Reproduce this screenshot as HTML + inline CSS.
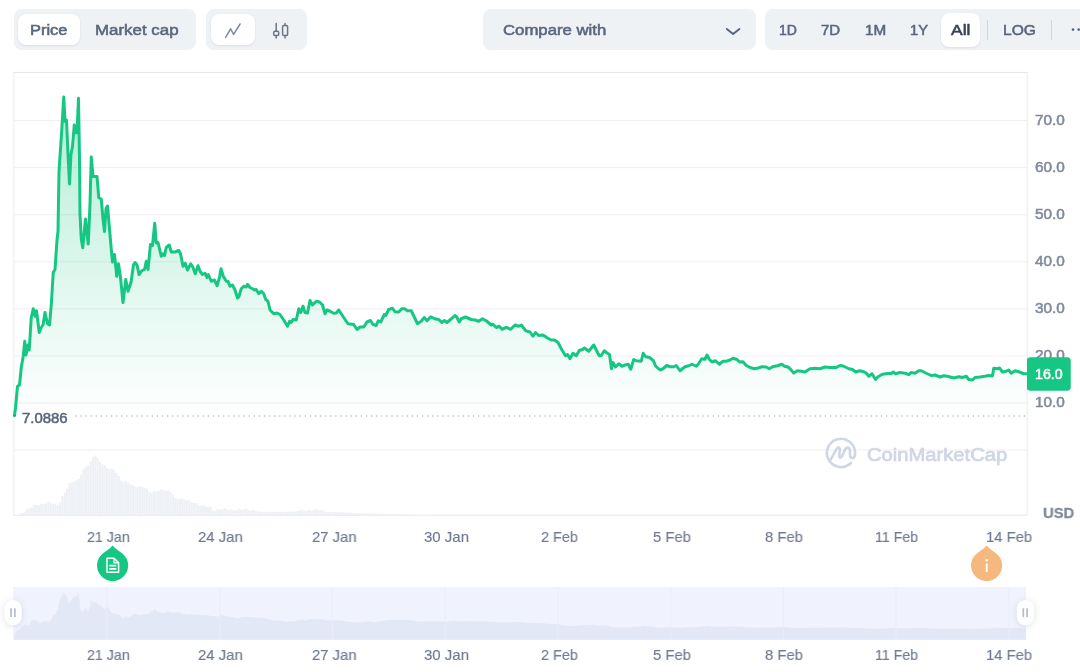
<!DOCTYPE html><html><head><meta charset="utf-8"><title>chart</title><style>
html,body{margin:0;padding:0;background:#fff;}
body{width:1080px;height:672px;position:relative;overflow:hidden;font-family:"Liberation Sans",sans-serif;}
.t{position:absolute;white-space:nowrap;line-height:1;will-change:transform;}
.grp{position:absolute;top:9px;height:41px;background:#eff2f5;border-radius:8px;}
.pill{position:absolute;background:#fff;border-radius:8px;box-shadow:0 1px 2px rgba(88,102,126,.12),0 0 1px rgba(88,102,126,.1);}
.xl{font-size:15px;color:#6b768c;transform:translateX(-50%);}
</style></head><body>
<svg width="1080" height="672" viewBox="0 0 1080 672" style="position:absolute;left:0;top:0">
<defs>
<linearGradient id="ag" x1="0" y1="0" x2="0" y2="1" gradientUnits="objectBoundingBox">
<stop offset="0" stop-color="#16c784" stop-opacity="0.32"/>
<stop offset="1" stop-color="#16c784" stop-opacity="0.0"/>
</linearGradient>
<pattern id="vp" x="14" y="0" width="2.35" height="10" patternUnits="userSpaceOnUse"><rect x="0" y="0" width="2.35" height="10" fill="#f7f8fa"/><rect x="0.3" y="0" width="1.75" height="10" fill="#edf0f4"/></pattern>
<filter id="sh" x="-50%" y="-50%" width="200%" height="200%"><feDropShadow dx="0" dy="1" stdDeviation="3" flood-color="#58667e" flood-opacity="0.2"/></filter>
</defs>
<rect x="14" y="120.1" width="1013" height="1" fill="#eeeff1"/>
<rect x="14" y="167.17" width="1013" height="1" fill="#eeeff1"/>
<rect x="14" y="214.24" width="1013" height="1" fill="#eeeff1"/>
<rect x="14" y="261.31" width="1013" height="1" fill="#eeeff1"/>
<rect x="14" y="308.38" width="1013" height="1" fill="#eeeff1"/>
<rect x="14" y="355.45" width="1013" height="1" fill="#eeeff1"/>
<rect x="14" y="402.52" width="1013" height="1" fill="#eeeff1"/>
<rect x="14" y="449.59" width="1013" height="1" fill="#eeeff1"/>
<rect x="13.4" y="71.9" width="1014.3" height="1" fill="#e6e6e6"/>
<rect x="13.4" y="514.9" width="1014.3" height="1" fill="#ebecee"/>
<rect x="13.4" y="72.4" width="1" height="443" fill="#ebecee"/>
<rect x="1026.7" y="72.4" width="1" height="443" fill="#ebecee"/>
<g id="wm" fill="none" stroke="#cfd6e4" stroke-width="2.6" stroke-linecap="round" stroke-linejoin="round">
<path d="M850.9 463 A14.1 14.1 0 1 1 855.1 453 C855.1 456 854 458 852.2 458 C850.6 458 850 456.5 850 455 L850 451.5 C850 449 849 447.6 847.6 447.6 C846.3 447.6 845.4 448.6 844.7 450.2 L842.3 455.5 C841.7 457 841 457.7 840.3 457.7 C839.5 457.7 839.2 457 839.3 456 L839.8 450.5 C840 448.5 839.5 447.3 838.6 447.3 C837.7 447.3 837 448.2 836.3 449.6 L830.3 460.1"/>
</g>
<path d="M14.40 515.87h2.05V515.4h-2.05ZM16.75 514.86h2.05V515.4h-2.05ZM19.10 513.85h2.05V515.4h-2.05ZM21.45 512.84h2.05V515.4h-2.05ZM23.80 511.83h2.05V515.4h-2.05ZM26.15 509.39h2.05V515.4h-2.05ZM28.50 508.28h2.05V515.4h-2.05ZM30.85 507.38h2.05V515.4h-2.05ZM33.20 504.92h2.05V515.4h-2.05ZM35.55 505.09h2.05V515.4h-2.05ZM37.90 505.42h2.05V515.4h-2.05ZM40.25 503.72h2.05V515.4h-2.05ZM42.60 503.67h2.05V515.4h-2.05ZM44.95 503.43h2.05V515.4h-2.05ZM47.30 501.60h2.05V515.4h-2.05ZM49.65 502.69h2.05V515.4h-2.05ZM52.00 503.89h2.05V515.4h-2.05ZM54.35 503.43h2.05V515.4h-2.05ZM56.70 504.74h2.05V515.4h-2.05ZM59.05 502.24h2.05V515.4h-2.05ZM61.40 496.37h2.05V515.4h-2.05ZM63.75 492.50h2.05V515.4h-2.05ZM66.10 488.63h2.05V515.4h-2.05ZM68.45 483.33h2.05V515.4h-2.05ZM70.80 482.39h2.05V515.4h-2.05ZM73.15 482.09h2.05V515.4h-2.05ZM75.50 480.03h2.05V515.4h-2.05ZM77.85 479.03h2.05V515.4h-2.05ZM80.20 474.85h2.05V515.4h-2.05ZM82.55 469.03h2.05V515.4h-2.05ZM84.90 467.17h2.05V515.4h-2.05ZM87.25 465.21h2.05V515.4h-2.05ZM89.60 461.24h2.05V515.4h-2.05ZM91.95 456.94h2.05V515.4h-2.05ZM94.30 455.59h2.05V515.4h-2.05ZM96.65 457.91h2.05V515.4h-2.05ZM99.00 461.96h2.05V515.4h-2.05ZM101.35 464.33h2.05V515.4h-2.05ZM103.70 465.15h2.05V515.4h-2.05ZM106.05 468.01h2.05V515.4h-2.05ZM108.40 469.06h2.05V515.4h-2.05ZM110.75 468.72h2.05V515.4h-2.05ZM113.10 470.36h2.05V515.4h-2.05ZM115.45 473.36h2.05V515.4h-2.05ZM117.80 476.10h2.05V515.4h-2.05ZM120.15 480.69h2.05V515.4h-2.05ZM122.50 482.07h2.05V515.4h-2.05ZM124.85 481.14h2.05V515.4h-2.05ZM127.20 482.52h2.05V515.4h-2.05ZM129.55 484.62h2.05V515.4h-2.05ZM131.90 485.35h2.05V515.4h-2.05ZM134.25 486.83h2.05V515.4h-2.05ZM136.60 487.13h2.05V515.4h-2.05ZM138.95 485.79h2.05V515.4h-2.05ZM141.30 486.49h2.05V515.4h-2.05ZM143.65 487.72h2.05V515.4h-2.05ZM146.00 488.64h2.05V515.4h-2.05ZM148.35 491.85h2.05V515.4h-2.05ZM150.70 492.71h2.05V515.4h-2.05ZM153.05 491.20h2.05V515.4h-2.05ZM155.40 491.48h2.05V515.4h-2.05ZM157.75 490.84h2.05V515.4h-2.05ZM160.10 489.17h2.05V515.4h-2.05ZM162.45 490.24h2.05V515.4h-2.05ZM164.80 490.86h2.05V515.4h-2.05ZM167.15 490.37h2.05V515.4h-2.05ZM169.50 492.03h2.05V515.4h-2.05ZM171.85 494.72h2.05V515.4h-2.05ZM174.20 498.05h2.05V515.4h-2.05ZM176.55 499.06h2.05V515.4h-2.05ZM178.90 499.19h2.05V515.4h-2.05ZM181.25 498.17h2.05V515.4h-2.05ZM183.60 499.51h2.05V515.4h-2.05ZM185.95 500.29h2.05V515.4h-2.05ZM188.30 500.16h2.05V515.4h-2.05ZM190.65 502.00h2.05V515.4h-2.05ZM193.00 502.95h2.05V515.4h-2.05ZM195.35 503.09h2.05V515.4h-2.05ZM197.70 505.22h2.05V515.4h-2.05ZM200.05 506.01h2.05V515.4h-2.05ZM202.40 505.06h2.05V515.4h-2.05ZM204.75 506.48h2.05V515.4h-2.05ZM207.10 507.10h2.05V515.4h-2.05ZM209.45 506.87h2.05V515.4h-2.05ZM211.80 510.77h2.05V515.4h-2.05ZM214.15 511.11h2.05V515.4h-2.05ZM216.50 509.36h2.05V515.4h-2.05ZM218.85 509.78h2.05V515.4h-2.05ZM221.20 509.46h2.05V515.4h-2.05ZM223.55 508.31h2.05V515.4h-2.05ZM225.90 509.44h2.05V515.4h-2.05ZM228.25 509.95h2.05V515.4h-2.05ZM230.60 509.15h2.05V515.4h-2.05ZM232.95 510.19h2.05V515.4h-2.05ZM235.30 510.00h2.05V515.4h-2.05ZM237.65 508.80h2.05V515.4h-2.05ZM240.00 509.73h2.05V515.4h-2.05ZM242.35 509.53h2.05V515.4h-2.05ZM244.70 508.50h2.05V515.4h-2.05ZM247.05 509.99h2.05V515.4h-2.05ZM249.40 510.56h2.05V515.4h-2.05ZM251.75 509.86h2.05V515.4h-2.05ZM254.10 511.06h2.05V515.4h-2.05ZM256.45 511.13h2.05V515.4h-2.05ZM258.80 511.64h2.05V515.4h-2.05ZM261.15 511.70h2.05V515.4h-2.05ZM263.50 511.70h2.05V515.4h-2.05ZM265.85 511.70h2.05V515.4h-2.05ZM268.20 511.70h2.05V515.4h-2.05ZM270.55 511.70h2.05V515.4h-2.05ZM272.90 511.70h2.05V515.4h-2.05ZM275.25 511.70h2.05V515.4h-2.05ZM277.60 511.70h2.05V515.4h-2.05ZM279.95 511.70h2.05V515.4h-2.05ZM282.30 511.70h2.05V515.4h-2.05ZM284.65 511.70h2.05V515.4h-2.05ZM287.00 511.70h2.05V515.4h-2.05ZM289.35 511.70h2.05V515.4h-2.05ZM291.70 511.70h2.05V515.4h-2.05ZM294.05 511.42h2.05V515.4h-2.05ZM296.40 510.98h2.05V515.4h-2.05ZM298.75 510.43h2.05V515.4h-2.05ZM301.10 509.38h2.05V515.4h-2.05ZM303.45 510.67h2.05V515.4h-2.05ZM305.80 510.71h2.05V515.4h-2.05ZM308.15 509.77h2.05V515.4h-2.05ZM310.50 510.63h2.05V515.4h-2.05ZM312.85 510.04h2.05V515.4h-2.05ZM315.20 508.85h2.05V515.4h-2.05ZM317.55 510.00h2.05V515.4h-2.05ZM319.90 510.15h2.05V515.4h-2.05ZM322.25 510.02h2.05V515.4h-2.05ZM324.60 511.85h2.05V515.4h-2.05ZM326.95 512.02h2.05V515.4h-2.05ZM329.30 511.71h2.05V515.4h-2.05ZM331.65 511.84h2.05V515.4h-2.05ZM334.00 511.96h2.05V515.4h-2.05ZM336.35 512.09h2.05V515.4h-2.05ZM338.70 512.21h2.05V515.4h-2.05ZM341.05 512.34h2.05V515.4h-2.05ZM343.40 512.46h2.05V515.4h-2.05ZM345.75 512.59h2.05V515.4h-2.05ZM348.10 512.71h2.05V515.4h-2.05ZM350.45 512.84h2.05V515.4h-2.05ZM352.80 512.96h2.05V515.4h-2.05ZM355.15 513.09h2.05V515.4h-2.05ZM357.50 513.21h2.05V515.4h-2.05ZM359.85 513.31h2.05V515.4h-2.05ZM362.20 513.36h2.05V515.4h-2.05ZM364.55 513.41h2.05V515.4h-2.05ZM366.90 513.46h2.05V515.4h-2.05ZM369.25 513.50h2.05V515.4h-2.05ZM371.60 513.55h2.05V515.4h-2.05ZM373.95 513.60h2.05V515.4h-2.05ZM376.30 513.64h2.05V515.4h-2.05ZM378.65 513.69h2.05V515.4h-2.05ZM381.00 513.74h2.05V515.4h-2.05ZM383.35 513.78h2.05V515.4h-2.05ZM385.70 513.83h2.05V515.4h-2.05ZM388.05 513.88h2.05V515.4h-2.05ZM390.40 513.93h2.05V515.4h-2.05ZM392.75 513.97h2.05V515.4h-2.05ZM395.10 514.02h2.05V515.4h-2.05ZM397.45 514.07h2.05V515.4h-2.05ZM399.80 514.11h2.05V515.4h-2.05ZM402.15 514.16h2.05V515.4h-2.05ZM404.50 514.21h2.05V515.4h-2.05ZM406.85 514.25h2.05V515.4h-2.05ZM409.20 514.30h2.05V515.4h-2.05ZM411.55 514.35h2.05V515.4h-2.05ZM413.90 514.40h2.05V515.4h-2.05ZM416.25 514.44h2.05V515.4h-2.05ZM418.60 514.49h2.05V515.4h-2.05ZM420.95 514.51h2.05V515.4h-2.05ZM423.30 514.53h2.05V515.4h-2.05ZM425.65 514.54h2.05V515.4h-2.05ZM428.00 514.56h2.05V515.4h-2.05ZM430 514.6H1026V515.4H430Z" fill="#edf0f4"/>
<path d="M14.50 415.50 L15.50 408.00 L17.50 386.25 L19.50 385.00 L21.25 367.50 L23.25 356.25 L24.75 341.25 L26.00 355.00 L28.00 345.00 L29.25 350.00 L31.25 317.50 L33.25 308.75 L35.00 316.25 L36.50 310.75 L39.25 332.50 L41.25 327.50 L43.00 325.00 L45.00 312.50 L47.50 323.75 L49.50 325.00 L51.25 305.00 L53.25 272.50 L55.00 269.50 L57.00 240.00 L58.00 231.50 L59.00 171.50 L61.50 134.00 L63.75 97.00 L65.00 121.50 L66.50 120.00 L68.00 154.00 L69.50 184.00 L71.00 154.00 L72.50 146.50 L74.25 125.00 L75.75 132.75 L77.00 132.75 L78.50 98.25 L79.50 159.00 L80.00 214.00 L81.25 239.00 L82.75 247.75 L85.50 219.00 L87.00 234.00 L88.25 244.00 L90.00 204.00 L91.25 157.00 L93.00 176.50 L97.00 176.50 L98.75 197.75 L101.25 199.00 L103.00 219.00 L104.50 231.50 L106.00 209.00 L107.50 206.00 L109.50 229.00 L111.50 252.00 L112.50 262.00 L114.50 254.50 L116.75 276.25 L118.50 263.75 L120.50 277.50 L123.00 302.50 L125.75 279.50 L128.00 291.25 L131.00 282.50 L133.50 265.00 L135.00 262.50 L137.00 265.00 L139.00 274.50 L141.75 270.75 L144.50 269.50 L146.25 261.25 L148.00 269.50 L150.50 244.50 L152.50 245.50 L154.75 223.25 L156.25 243.00 L158.00 242.50 L161.25 256.25 L162.50 253.75 L164.50 255.50 L166.25 247.50 L169.25 245.00 L171.25 252.00 L175.00 252.00 L178.75 250.50 L180.50 253.75 L183.00 266.25 L185.25 263.25 L187.50 270.00 L190.75 263.75 L192.50 266.25 L195.25 273.75 L198.00 265.75 L200.00 271.25 L202.50 274.50 L205.00 273.25 L207.00 277.50 L208.25 274.50 L211.25 281.25 L214.50 280.00 L217.00 285.75 L219.50 277.50 L221.00 268.75 L223.25 276.25 L226.25 281.25 L228.00 281.25 L230.00 286.25 L232.50 285.00 L235.00 290.00 L237.50 298.00 L238.75 297.00 L241.25 288.75 L243.75 286.25 L246.25 287.00 L247.50 284.25 L250.00 287.50 L252.50 288.75 L254.50 290.00 L256.25 289.50 L258.75 293.75 L261.25 291.25 L263.75 293.75 L265.75 299.50 L268.00 301.25 L270.00 310.00 L273.75 313.75 L277.00 313.00 L280.00 314.50 L283.75 320.00 L287.50 326.25 L289.50 321.25 L291.25 322.50 L293.00 319.50 L296.25 320.00 L298.75 308.75 L300.75 312.50 L303.00 306.25 L305.00 312.50 L307.50 313.00 L310.00 300.50 L312.50 305.00 L316.25 301.25 L319.50 302.00 L322.50 305.00 L325.00 313.75 L327.00 310.00 L330.00 311.25 L333.75 313.25 L336.25 313.00 L338.75 310.00 L341.25 313.75 L345.00 319.50 L348.00 323.75 L353.75 324.50 L357.00 329.50 L360.00 327.00 L363.75 327.00 L367.00 322.00 L370.50 320.50 L373.00 324.50 L376.25 325.50 L378.25 320.75 L380.75 322.00 L384.25 314.50 L385.75 315.50 L388.75 309.50 L392.50 308.25 L395.00 311.75 L398.75 312.00 L401.75 308.75 L404.50 308.75 L407.50 310.75 L411.25 310.75 L414.50 317.50 L417.50 323.75 L421.25 321.25 L424.25 317.50 L427.00 320.75 L430.75 316.75 L434.50 318.75 L438.75 319.50 L441.75 322.50 L444.50 320.50 L447.00 322.50 L450.50 319.50 L455.00 315.50 L456.75 317.00 L459.25 322.00 L461.25 318.75 L465.50 317.00 L471.25 319.50 L475.00 320.00 L478.75 321.25 L482.50 318.75 L486.25 320.75 L491.25 325.00 L493.00 324.25 L496.25 327.50 L499.25 326.25 L502.00 329.25 L506.25 327.50 L510.75 329.25 L515.00 325.00 L518.75 326.25 L521.25 325.00 L525.75 330.75 L530.00 332.00 L533.00 336.25 L535.50 332.50 L538.75 335.50 L543.00 335.00 L547.50 338.00 L551.25 340.00 L554.50 340.00 L558.00 342.50 L562.00 350.00 L565.50 355.75 L567.50 354.50 L570.00 358.75 L573.00 353.25 L576.25 355.75 L579.25 350.50 L582.50 349.50 L584.50 348.00 L588.75 351.25 L593.75 345.00 L596.25 350.00 L599.25 355.75 L601.25 355.50 L604.25 350.75 L607.00 353.00 L609.50 354.50 L611.50 368.75 L613.00 362.50 L615.50 367.00 L618.75 363.75 L622.00 366.25 L625.00 365.00 L628.25 364.25 L630.75 369.25 L633.75 359.50 L636.25 360.75 L641.25 361.25 L643.25 353.25 L645.75 356.75 L649.50 357.50 L653.25 360.50 L655.75 366.25 L660.00 370.00 L663.00 368.75 L666.75 365.50 L670.00 366.75 L673.75 366.75 L676.25 365.50 L680.00 370.75 L685.00 366.75 L688.75 365.75 L692.00 364.25 L696.25 366.25 L698.00 364.50 L701.75 358.75 L705.00 359.25 L707.00 355.00 L709.25 359.25 L712.00 362.00 L715.50 360.75 L719.25 364.25 L723.00 361.25 L726.25 361.25 L730.00 360.00 L733.00 358.25 L737.00 359.50 L739.50 362.00 L743.00 361.75 L746.25 365.50 L750.00 367.50 L754.25 368.75 L758.25 368.00 L762.00 366.75 L766.25 367.00 L769.25 368.75 L772.50 366.75 L777.50 365.75 L781.75 364.25 L784.50 366.25 L788.00 367.00 L790.00 368.75 L793.75 373.00 L797.50 370.75 L801.25 371.25 L805.00 372.00 L810.00 368.75 L815.00 368.25 L820.00 368.75 L825.00 367.00 L830.00 367.50 L836.25 367.50 L840.00 365.50 L843.75 366.25 L848.75 368.75 L852.50 369.50 L855.75 372.00 L859.50 370.75 L863.75 371.75 L866.25 373.00 L868.75 376.25 L872.00 373.75 L875.50 379.50 L878.00 376.75 L882.50 374.25 L887.50 373.50 L891.25 373.50 L893.25 372.00 L895.50 373.75 L900.00 372.50 L905.00 373.25 L908.75 374.50 L911.25 372.50 L915.00 373.25 L918.75 370.75 L921.25 370.75 L926.25 373.25 L931.25 375.50 L935.00 375.00 L940.00 377.00 L943.75 375.75 L947.50 376.25 L953.75 378.00 L958.75 376.75 L962.50 377.50 L966.25 376.25 L968.75 379.50 L972.50 380.00 L975.00 377.50 L980.00 377.00 L985.00 376.25 L988.75 375.50 L992.50 375.75 L993.75 368.25 L997.50 368.75 L999.50 368.00 L1002.50 372.00 L1006.25 371.25 L1008.75 370.00 L1011.25 373.25 L1015.00 370.75 L1018.75 371.75 L1023.75 373.75 L1027.00 373.75 L1027.00 416.00 L14.50 416.00 Z" fill="url(#ag)"/>
<line x1="14" y1="416" x2="1027" y2="416" stroke="#9c9ca3" stroke-width="1.2" stroke-dasharray="1.25 3.85" />
<rect x="15" y="408" width="60" height="18" fill="#fff"/>
<path d="M14.50 415.50 L15.50 408.00 L17.50 386.25 L19.50 385.00 L21.25 367.50 L23.25 356.25 L24.75 341.25 L26.00 355.00 L28.00 345.00 L29.25 350.00 L31.25 317.50 L33.25 308.75 L35.00 316.25 L36.50 310.75 L39.25 332.50 L41.25 327.50 L43.00 325.00 L45.00 312.50 L47.50 323.75 L49.50 325.00 L51.25 305.00 L53.25 272.50 L55.00 269.50 L57.00 240.00 L58.00 231.50 L59.00 171.50 L61.50 134.00 L63.75 97.00 L65.00 121.50 L66.50 120.00 L68.00 154.00 L69.50 184.00 L71.00 154.00 L72.50 146.50 L74.25 125.00 L75.75 132.75 L77.00 132.75 L78.50 98.25 L79.50 159.00 L80.00 214.00 L81.25 239.00 L82.75 247.75 L85.50 219.00 L87.00 234.00 L88.25 244.00 L90.00 204.00 L91.25 157.00 L93.00 176.50 L97.00 176.50 L98.75 197.75 L101.25 199.00 L103.00 219.00 L104.50 231.50 L106.00 209.00 L107.50 206.00 L109.50 229.00 L111.50 252.00 L112.50 262.00 L114.50 254.50 L116.75 276.25 L118.50 263.75 L120.50 277.50 L123.00 302.50 L125.75 279.50 L128.00 291.25 L131.00 282.50 L133.50 265.00 L135.00 262.50 L137.00 265.00 L139.00 274.50 L141.75 270.75 L144.50 269.50 L146.25 261.25 L148.00 269.50 L150.50 244.50 L152.50 245.50 L154.75 223.25 L156.25 243.00 L158.00 242.50 L161.25 256.25 L162.50 253.75 L164.50 255.50 L166.25 247.50 L169.25 245.00 L171.25 252.00 L175.00 252.00 L178.75 250.50 L180.50 253.75 L183.00 266.25 L185.25 263.25 L187.50 270.00 L190.75 263.75 L192.50 266.25 L195.25 273.75 L198.00 265.75 L200.00 271.25 L202.50 274.50 L205.00 273.25 L207.00 277.50 L208.25 274.50 L211.25 281.25 L214.50 280.00 L217.00 285.75 L219.50 277.50 L221.00 268.75 L223.25 276.25 L226.25 281.25 L228.00 281.25 L230.00 286.25 L232.50 285.00 L235.00 290.00 L237.50 298.00 L238.75 297.00 L241.25 288.75 L243.75 286.25 L246.25 287.00 L247.50 284.25 L250.00 287.50 L252.50 288.75 L254.50 290.00 L256.25 289.50 L258.75 293.75 L261.25 291.25 L263.75 293.75 L265.75 299.50 L268.00 301.25 L270.00 310.00 L273.75 313.75 L277.00 313.00 L280.00 314.50 L283.75 320.00 L287.50 326.25 L289.50 321.25 L291.25 322.50 L293.00 319.50 L296.25 320.00 L298.75 308.75 L300.75 312.50 L303.00 306.25 L305.00 312.50 L307.50 313.00 L310.00 300.50 L312.50 305.00 L316.25 301.25 L319.50 302.00 L322.50 305.00 L325.00 313.75 L327.00 310.00 L330.00 311.25 L333.75 313.25 L336.25 313.00 L338.75 310.00 L341.25 313.75 L345.00 319.50 L348.00 323.75 L353.75 324.50 L357.00 329.50 L360.00 327.00 L363.75 327.00 L367.00 322.00 L370.50 320.50 L373.00 324.50 L376.25 325.50 L378.25 320.75 L380.75 322.00 L384.25 314.50 L385.75 315.50 L388.75 309.50 L392.50 308.25 L395.00 311.75 L398.75 312.00 L401.75 308.75 L404.50 308.75 L407.50 310.75 L411.25 310.75 L414.50 317.50 L417.50 323.75 L421.25 321.25 L424.25 317.50 L427.00 320.75 L430.75 316.75 L434.50 318.75 L438.75 319.50 L441.75 322.50 L444.50 320.50 L447.00 322.50 L450.50 319.50 L455.00 315.50 L456.75 317.00 L459.25 322.00 L461.25 318.75 L465.50 317.00 L471.25 319.50 L475.00 320.00 L478.75 321.25 L482.50 318.75 L486.25 320.75 L491.25 325.00 L493.00 324.25 L496.25 327.50 L499.25 326.25 L502.00 329.25 L506.25 327.50 L510.75 329.25 L515.00 325.00 L518.75 326.25 L521.25 325.00 L525.75 330.75 L530.00 332.00 L533.00 336.25 L535.50 332.50 L538.75 335.50 L543.00 335.00 L547.50 338.00 L551.25 340.00 L554.50 340.00 L558.00 342.50 L562.00 350.00 L565.50 355.75 L567.50 354.50 L570.00 358.75 L573.00 353.25 L576.25 355.75 L579.25 350.50 L582.50 349.50 L584.50 348.00 L588.75 351.25 L593.75 345.00 L596.25 350.00 L599.25 355.75 L601.25 355.50 L604.25 350.75 L607.00 353.00 L609.50 354.50 L611.50 368.75 L613.00 362.50 L615.50 367.00 L618.75 363.75 L622.00 366.25 L625.00 365.00 L628.25 364.25 L630.75 369.25 L633.75 359.50 L636.25 360.75 L641.25 361.25 L643.25 353.25 L645.75 356.75 L649.50 357.50 L653.25 360.50 L655.75 366.25 L660.00 370.00 L663.00 368.75 L666.75 365.50 L670.00 366.75 L673.75 366.75 L676.25 365.50 L680.00 370.75 L685.00 366.75 L688.75 365.75 L692.00 364.25 L696.25 366.25 L698.00 364.50 L701.75 358.75 L705.00 359.25 L707.00 355.00 L709.25 359.25 L712.00 362.00 L715.50 360.75 L719.25 364.25 L723.00 361.25 L726.25 361.25 L730.00 360.00 L733.00 358.25 L737.00 359.50 L739.50 362.00 L743.00 361.75 L746.25 365.50 L750.00 367.50 L754.25 368.75 L758.25 368.00 L762.00 366.75 L766.25 367.00 L769.25 368.75 L772.50 366.75 L777.50 365.75 L781.75 364.25 L784.50 366.25 L788.00 367.00 L790.00 368.75 L793.75 373.00 L797.50 370.75 L801.25 371.25 L805.00 372.00 L810.00 368.75 L815.00 368.25 L820.00 368.75 L825.00 367.00 L830.00 367.50 L836.25 367.50 L840.00 365.50 L843.75 366.25 L848.75 368.75 L852.50 369.50 L855.75 372.00 L859.50 370.75 L863.75 371.75 L866.25 373.00 L868.75 376.25 L872.00 373.75 L875.50 379.50 L878.00 376.75 L882.50 374.25 L887.50 373.50 L891.25 373.50 L893.25 372.00 L895.50 373.75 L900.00 372.50 L905.00 373.25 L908.75 374.50 L911.25 372.50 L915.00 373.25 L918.75 370.75 L921.25 370.75 L926.25 373.25 L931.25 375.50 L935.00 375.00 L940.00 377.00 L943.75 375.75 L947.50 376.25 L953.75 378.00 L958.75 376.75 L962.50 377.50 L966.25 376.25 L968.75 379.50 L972.50 380.00 L975.00 377.50 L980.00 377.00 L985.00 376.25 L988.75 375.50 L992.50 375.75 L993.75 368.25 L997.50 368.75 L999.50 368.00 L1002.50 372.00 L1006.25 371.25 L1008.75 370.00 L1011.25 373.25 L1015.00 370.75 L1018.75 371.75 L1023.75 373.75 L1027.00 373.75" fill="none" stroke="#16c784" stroke-width="3" stroke-linejoin="round" stroke-linecap="round"/>
<rect x="13.5" y="415" width="2" height="1.2" fill="#ea3943"/>
<rect x="13.3" y="587" width="1012.7" height="52.799999999999955" fill="#f0f3fe"/>
<path d="M14.00 639.80 L14.50 633.76 L15.50 632.79 L17.50 629.95 L19.50 629.78 L21.25 627.50 L23.25 626.03 L24.75 624.07 L26.00 625.87 L28.00 624.56 L29.25 625.22 L31.25 620.98 L33.25 619.83 L35.00 620.81 L36.50 620.09 L39.25 622.93 L41.25 622.28 L43.00 621.95 L45.00 620.32 L47.50 621.79 L49.50 621.95 L51.25 619.34 L53.25 615.10 L55.00 614.71 L57.00 610.86 L58.00 609.75 L59.00 601.92 L61.50 597.03 L63.75 592.20 L65.00 595.40 L66.50 595.20 L68.00 599.64 L69.50 603.55 L71.00 599.64 L72.50 598.66 L74.25 595.85 L75.75 596.87 L77.00 596.87 L78.50 592.36 L79.50 600.29 L80.00 607.47 L81.25 610.73 L82.75 611.87 L85.50 608.12 L87.00 610.08 L88.25 611.38 L90.00 606.16 L91.25 600.03 L93.00 602.57 L97.00 602.57 L98.75 605.35 L101.25 605.51 L103.00 608.12 L104.50 609.75 L106.00 606.82 L107.50 606.42 L109.50 609.43 L111.50 612.43 L112.50 613.73 L114.50 612.75 L116.75 615.59 L118.50 613.96 L120.50 615.76 L123.00 619.02 L125.75 616.02 L128.00 617.55 L131.00 616.41 L133.50 614.12 L135.00 613.80 L137.00 614.12 L139.00 615.36 L141.75 614.87 L144.50 614.71 L146.25 613.63 L148.00 614.71 L150.50 611.45 L152.50 611.58 L154.75 608.68 L156.25 611.25 L158.00 611.19 L161.25 612.98 L162.50 612.66 L164.50 612.88 L166.25 611.84 L169.25 611.51 L171.25 612.43 L175.00 612.43 L178.75 612.23 L180.50 612.66 L183.00 614.29 L185.25 613.90 L187.50 614.78 L190.75 613.96 L192.50 614.29 L195.25 615.27 L198.00 614.22 L200.00 614.94 L202.50 615.36 L205.00 615.20 L207.00 615.76 L208.25 615.36 L211.25 616.24 L214.50 616.08 L217.00 616.83 L219.50 615.76 L221.00 614.61 L223.25 615.59 L226.25 616.24 L228.00 616.24 L230.00 616.90 L232.50 616.73 L235.00 617.39 L237.50 618.43 L238.75 618.30 L241.25 617.22 L243.75 616.90 L246.25 617.00 L247.50 616.64 L250.00 617.06 L252.50 617.22 L254.50 617.39 L256.25 617.32 L258.75 617.88 L261.25 617.55 L263.75 617.88 L265.75 618.63 L268.00 618.85 L270.00 620.00 L273.75 620.49 L277.00 620.39 L280.00 620.58 L283.75 621.30 L287.50 622.12 L289.50 621.46 L291.25 621.63 L293.00 621.24 L296.25 621.30 L298.75 619.83 L300.75 620.32 L303.00 619.51 L305.00 620.32 L307.50 620.39 L310.00 618.76 L312.50 619.34 L316.25 618.85 L319.50 618.95 L322.50 619.34 L325.00 620.49 L327.00 620.00 L330.00 620.16 L333.75 620.42 L336.25 620.39 L338.75 620.00 L341.25 620.49 L345.00 621.24 L348.00 621.79 L353.75 621.89 L357.00 622.54 L360.00 622.22 L363.75 622.22 L367.00 621.56 L370.50 621.37 L373.00 621.89 L376.25 622.02 L378.25 621.40 L380.75 621.56 L384.25 620.58 L385.75 620.71 L388.75 619.93 L392.50 619.77 L395.00 620.22 L398.75 620.26 L401.75 619.83 L404.50 619.83 L407.50 620.09 L411.25 620.09 L414.50 620.98 L417.50 621.79 L421.25 621.46 L424.25 620.98 L427.00 621.40 L430.75 620.88 L434.50 621.14 L438.75 621.24 L441.75 621.63 L444.50 621.37 L447.00 621.63 L450.50 621.24 L455.00 620.71 L456.75 620.91 L459.25 621.56 L461.25 621.14 L465.50 620.91 L471.25 621.24 L475.00 621.30 L478.75 621.46 L482.50 621.14 L486.25 621.40 L491.25 621.95 L493.00 621.86 L496.25 622.28 L499.25 622.12 L502.00 622.51 L506.25 622.28 L510.75 622.51 L515.00 621.95 L518.75 622.12 L521.25 621.95 L525.75 622.70 L530.00 622.87 L533.00 623.42 L535.50 622.93 L538.75 623.32 L543.00 623.26 L547.50 623.65 L551.25 623.91 L554.50 623.91 L558.00 624.24 L562.00 625.22 L565.50 625.97 L567.50 625.80 L570.00 626.36 L573.00 625.64 L576.25 625.97 L579.25 625.28 L582.50 625.15 L584.50 624.96 L588.75 625.38 L593.75 624.56 L596.25 625.22 L599.25 625.97 L601.25 625.93 L604.25 625.31 L607.00 625.61 L609.50 625.80 L611.50 627.66 L613.00 626.85 L615.50 627.44 L618.75 627.01 L622.00 627.34 L625.00 627.17 L628.25 627.08 L630.75 627.73 L633.75 626.46 L636.25 626.62 L641.25 626.68 L643.25 625.64 L645.75 626.10 L649.50 626.20 L653.25 626.59 L655.75 627.34 L660.00 627.83 L663.00 627.66 L666.75 627.24 L670.00 627.40 L673.75 627.40 L676.25 627.24 L680.00 627.92 L685.00 627.40 L688.75 627.27 L692.00 627.08 L696.25 627.34 L698.00 627.11 L701.75 626.36 L705.00 626.42 L707.00 625.87 L709.25 626.42 L712.00 626.78 L715.50 626.62 L719.25 627.08 L723.00 626.68 L726.25 626.68 L730.00 626.52 L733.00 626.29 L737.00 626.46 L739.50 626.78 L743.00 626.75 L746.25 627.24 L750.00 627.50 L754.25 627.66 L758.25 627.57 L762.00 627.40 L766.25 627.44 L769.25 627.66 L772.50 627.40 L777.50 627.27 L781.75 627.08 L784.50 627.34 L788.00 627.44 L790.00 627.66 L793.75 628.22 L797.50 627.92 L801.25 627.99 L805.00 628.09 L810.00 627.66 L815.00 627.60 L820.00 627.66 L825.00 627.44 L830.00 627.50 L836.25 627.50 L840.00 627.24 L843.75 627.34 L848.75 627.66 L852.50 627.76 L855.75 628.09 L859.50 627.92 L863.75 628.05 L866.25 628.22 L868.75 628.64 L872.00 628.32 L875.50 629.07 L878.00 628.71 L882.50 628.38 L887.50 628.28 L891.25 628.28 L893.25 628.09 L895.50 628.32 L900.00 628.15 L905.00 628.25 L908.75 628.41 L911.25 628.15 L915.00 628.25 L918.75 627.92 L921.25 627.92 L926.25 628.25 L931.25 628.54 L935.00 628.48 L940.00 628.74 L943.75 628.58 L947.50 628.64 L953.75 628.87 L958.75 628.71 L962.50 628.81 L966.25 628.64 L968.75 629.07 L972.50 629.13 L975.00 628.81 L980.00 628.74 L985.00 628.64 L988.75 628.54 L992.50 628.58 L993.75 627.60 L997.50 627.66 L999.50 627.57 L1002.50 628.09 L1006.25 627.99 L1008.75 627.83 L1011.25 628.25 L1015.00 627.92 L1018.75 628.05 L1023.75 628.32 L1026.00 628.32 L1026.00 639.80 Z" fill="#e3e8f7"/>
<rect x="106.5" y="587" width="1" height="52.799999999999955" fill="#e9edfa"/>
<rect x="219.2" y="587" width="1" height="52.799999999999955" fill="#e9edfa"/>
<rect x="331.9" y="587" width="1" height="52.799999999999955" fill="#e9edfa"/>
<rect x="444.7" y="587" width="1" height="52.799999999999955" fill="#e9edfa"/>
<rect x="557.4" y="587" width="1" height="52.799999999999955" fill="#e9edfa"/>
<rect x="670.1" y="587" width="1" height="52.799999999999955" fill="#e9edfa"/>
<rect x="782.8" y="587" width="1" height="52.799999999999955" fill="#e9edfa"/>
<rect x="895.5" y="587" width="1" height="52.799999999999955" fill="#e9edfa"/>
<rect x="1008.3" y="587" width="1" height="52.799999999999955" fill="#e9edfa"/>
<rect x="4.6" y="600" width="17.1" height="25.2" rx="8.55" fill="#fff" filter="url(#sh)"/>
<rect x="10.20" y="608.3" width="1.7" height="8.8" fill="#b4bccd"/><rect x="14.00" y="608.3" width="1.7" height="8.8" fill="#b4bccd"/>
<rect x="1016.8500000000001" y="600" width="17.1" height="25.2" rx="8.55" fill="#fff" filter="url(#sh)"/>
<rect x="1022.45" y="608.3" width="1.7" height="8.8" fill="#b4bccd"/><rect x="1026.25" y="608.3" width="1.7" height="8.8" fill="#b4bccd"/>
<path d="M112.6 545.5 C115.6 549.5 119.6 551 122.1 553.2 A15.6 15.6 0 1 1 103.1 553.2 C105.6 551 109.6 549.5 112.6 545.5 Z" fill="#16c784"/>
<g fill="none" stroke="#fff" stroke-width="1.5" stroke-linejoin="round">
<path d="M107 558.3 h7 l4.6 4.6 v9.4 h-11.6 z"/><path d="M114 558.3 v4.6 h4.6" stroke-width="1.2"/>
<path d="M109.3 565.6 h7 M109.3 568.9 h7" stroke-width="1.6"/></g>
<path d="M986.6 545.5 C989.6 549.5 993.6 551 996.1 553.2 A15.6 15.6 0 1 1 977.1 553.2 C979.6 551 983.6 549.5 986.6 545.5 Z" fill="#f5b97f"/>
<rect x="985.8" y="563.5" width="1.8" height="8.5" fill="#fff"/><circle cx="986.7" cy="560.3" r="1.3" fill="#fff"/>
<rect x="1027" y="357.5" width="43.5" height="33" rx="3" fill="#16c784"/>
</svg>
<div class="grp" style="left:14px;width:181.5px"></div>
<div class="pill" style="left:18.2px;top:13.5px;width:61.8px;height:31.5px"></div>
<div class="grp" style="left:206.3px;width:100.5px"></div>
<div class="pill" style="left:211px;top:13.5px;width:44px;height:31.5px"></div>
<svg style="position:absolute;left:0;top:0" width="320" height="60"><g fill="none" stroke="#69758b" stroke-width="1.5" stroke-linecap="round" stroke-linejoin="round">
<path d="M225.6 37.4 L230.6 28.8 L233.6 34.4 L240.1 24" stroke="#7f899e"/>
<path d="M276.2 23.4 V31.2 M276.2 35.5 V38 M285.1 23.4 V25.4 M285.1 35.5 V38"/>
<rect x="273.7" y="31.2" width="5" height="4.3" rx="1.2"/><rect x="282.6" y="25.4" width="5" height="10.1" rx="1.2"/>
</g></svg>
<div class="grp" style="left:483px;width:272.5px"></div>
<svg style="position:absolute;left:720px;top:20px" width="30" height="22"><path d="M6.8 8.9 L13.1 14.1 L19.4 8.9" fill="none" stroke="#58667e" stroke-width="1.9" stroke-linecap="round" stroke-linejoin="round"/></svg>
<div class="grp" style="left:765.3px;width:330px"></div>
<div class="pill" style="left:940.8px;top:12.5px;width:39px;height:34px"></div>
<div style="position:absolute;left:986.8px;top:19.5px;width:1px;height:20px;background:#cfd6e4"></div>
<div style="position:absolute;left:1051.4px;top:19.5px;width:1px;height:20px;background:#cfd6e4"></div>
<svg style="position:absolute;left:1060px;top:20px" width="20" height="20"><circle cx="13" cy="9.6" r="1.3" fill="#58667e"/><circle cx="18.7" cy="9.6" r="1.3" fill="#58667e"/></svg>
<div class="t" style="left:867.00px;top:445.40px;font-size:19px;-webkit-text-stroke:0.7px currentColor;color:#cfd6e4;transform-origin:0 0;transform:scaleX(1.0621)">CoinMarketCap</div>
<div class="t" style="left:30.33px;top:23.10px;font-size:14px;-webkit-text-stroke:0.52px currentColor;color:#58667e;transform-origin:0 0;transform:scaleX(1.1742)">Price</div>
<div class="t" style="left:95.09px;top:23.10px;font-size:14px;-webkit-text-stroke:0.52px currentColor;color:#58667e;transform-origin:0 0;transform:scaleX(1.2074)">Market cap</div>
<div class="t" style="left:503.30px;top:23.10px;font-size:14px;-webkit-text-stroke:0.52px currentColor;color:#58667e;transform-origin:0 0;transform:scaleX(1.1953)">Compare with</div>
<div class="t" style="left:779.30px;top:23.10px;font-size:14px;-webkit-text-stroke:0.52px currentColor;color:#58667e;transform-origin:0 0;transform:scaleX(0.9833)">1D</div>
<div class="t" style="left:820.70px;top:23.10px;font-size:14px;-webkit-text-stroke:0.52px currentColor;color:#58667e;transform-origin:0 0;transform:scaleX(1.0722)">7D</div>
<div class="t" style="left:864.60px;top:23.10px;font-size:14px;-webkit-text-stroke:0.52px currentColor;color:#58667e;transform-origin:0 0;transform:scaleX(1.0895)">1M</div>
<div class="t" style="left:909.60px;top:23.10px;font-size:14px;-webkit-text-stroke:0.52px currentColor;color:#58667e;transform-origin:0 0;transform:scaleX(1.0471)">1Y</div>
<div class="t" style="left:951.10px;top:23.10px;font-size:14px;-webkit-text-stroke:0.52px currentColor;color:#3a4256;transform-origin:0 0;transform:scaleX(1.2467)">All</div>
<div class="t" style="left:1003.29px;top:23.10px;font-size:14px;-webkit-text-stroke:0.52px currentColor;color:#58667e;transform-origin:0 0;transform:scaleX(1.1143)">LOG</div>
<div class="t" style="left:1043.10px;top:504.80px;font-size:15.5px;font-weight:bold;-webkit-text-stroke:0.3px currentColor;color:#808a9d;transform-origin:0 0;transform:scaleX(0.9545)">USD</div>
<div class="t" style="left:22.20px;top:411.20px;font-size:14px;-webkit-text-stroke:0.52px currentColor;color:#58667e;transform-origin:0 0;transform:scaleX(1.0651)">7.0886</div>
<div class="t" style="left:1034.60px;top:113.10px;font-size:14px;-webkit-text-stroke:0.52px currentColor;color:#808a9d;transform-origin:0 0;transform:scaleX(1.0963)">70.0</div>
<div class="t" style="left:1034.60px;top:160.10px;font-size:14px;-webkit-text-stroke:0.52px currentColor;color:#808a9d;transform-origin:0 0;transform:scaleX(1.0963)">60.0</div>
<div class="t" style="left:1034.60px;top:207.10px;font-size:14px;-webkit-text-stroke:0.52px currentColor;color:#808a9d;transform-origin:0 0;transform:scaleX(1.0963)">50.0</div>
<div class="t" style="left:1034.60px;top:254.10px;font-size:14px;-webkit-text-stroke:0.52px currentColor;color:#808a9d;transform-origin:0 0;transform:scaleX(1.0963)">40.0</div>
<div class="t" style="left:1034.60px;top:301.10px;font-size:14px;-webkit-text-stroke:0.52px currentColor;color:#808a9d;transform-origin:0 0;transform:scaleX(1.0963)">30.0</div>
<div class="t" style="left:1034.60px;top:348.10px;font-size:14px;-webkit-text-stroke:0.52px currentColor;color:#808a9d;transform-origin:0 0;transform:scaleX(1.0963)">20.0</div>
<div class="t" style="left:1034.60px;top:395.10px;font-size:14px;-webkit-text-stroke:0.52px currentColor;color:#808a9d;transform-origin:0 0;transform:scaleX(1.0963)">10.0</div>
<div class="t" style="left:86.80px;top:528.90px;font-size:15px;-webkit-text-stroke:0.15px currentColor;color:#6f7a90;transform-origin:0 0;transform:scaleX(0.9489)">21 Jan</div>
<div class="t" style="left:86.80px;top:647.10px;font-size:15px;-webkit-text-stroke:0.15px currentColor;color:#6f7a90;transform-origin:0 0;transform:scaleX(0.9489)">21 Jan</div>
<div class="t" style="left:198.40px;top:528.90px;font-size:15px;-webkit-text-stroke:0.15px currentColor;color:#6f7a90;transform-origin:0 0;transform:scaleX(0.9933)">24 Jan</div>
<div class="t" style="left:198.40px;top:647.10px;font-size:15px;-webkit-text-stroke:0.15px currentColor;color:#6f7a90;transform-origin:0 0;transform:scaleX(0.9933)">24 Jan</div>
<div class="t" style="left:311.50px;top:528.90px;font-size:15px;-webkit-text-stroke:0.15px currentColor;color:#6f7a90;transform-origin:0 0;transform:scaleX(0.9889)">27 Jan</div>
<div class="t" style="left:311.50px;top:647.10px;font-size:15px;-webkit-text-stroke:0.15px currentColor;color:#6f7a90;transform-origin:0 0;transform:scaleX(0.9889)">27 Jan</div>
<div class="t" style="left:424.00px;top:528.90px;font-size:15px;-webkit-text-stroke:0.15px currentColor;color:#6f7a90;transform-origin:0 0;transform:scaleX(1.0000)">30 Jan</div>
<div class="t" style="left:424.00px;top:647.10px;font-size:15px;-webkit-text-stroke:0.15px currentColor;color:#6f7a90;transform-origin:0 0;transform:scaleX(1.0000)">30 Jan</div>
<div class="t" style="left:541.00px;top:528.90px;font-size:15px;-webkit-text-stroke:0.15px currentColor;color:#6f7a90;transform-origin:0 0;transform:scaleX(0.9605)">2 Feb</div>
<div class="t" style="left:541.00px;top:647.10px;font-size:15px;-webkit-text-stroke:0.15px currentColor;color:#6f7a90;transform-origin:0 0;transform:scaleX(0.9605)">2 Feb</div>
<div class="t" style="left:652.50px;top:528.90px;font-size:15px;-webkit-text-stroke:0.15px currentColor;color:#6f7a90;transform-origin:0 0;transform:scaleX(0.9868)">5 Feb</div>
<div class="t" style="left:652.50px;top:647.10px;font-size:15px;-webkit-text-stroke:0.15px currentColor;color:#6f7a90;transform-origin:0 0;transform:scaleX(0.9868)">5 Feb</div>
<div class="t" style="left:765.00px;top:528.90px;font-size:15px;-webkit-text-stroke:0.15px currentColor;color:#6f7a90;transform-origin:0 0;transform:scaleX(0.9868)">8 Feb</div>
<div class="t" style="left:765.00px;top:647.10px;font-size:15px;-webkit-text-stroke:0.15px currentColor;color:#6f7a90;transform-origin:0 0;transform:scaleX(0.9868)">8 Feb</div>
<div class="t" style="left:875.06px;top:528.90px;font-size:15px;-webkit-text-stroke:0.15px currentColor;color:#6f7a90;transform-origin:0 0;transform:scaleX(0.9432)">11 Feb</div>
<div class="t" style="left:875.06px;top:647.10px;font-size:15px;-webkit-text-stroke:0.15px currentColor;color:#6f7a90;transform-origin:0 0;transform:scaleX(0.9432)">11 Feb</div>
<div class="t" style="left:985.91px;top:528.90px;font-size:15px;-webkit-text-stroke:0.15px currentColor;color:#6f7a90;transform-origin:0 0;transform:scaleX(0.9889)">14 Feb</div>
<div class="t" style="left:985.91px;top:647.10px;font-size:15px;-webkit-text-stroke:0.15px currentColor;color:#6f7a90;transform-origin:0 0;transform:scaleX(0.9889)">14 Feb</div>
<svg class="t" style="left:1027px;top:357px" width="44" height="34"><rect x="0" y="0.5" width="43.5" height="33" rx="3" fill="#16c784"/></svg>
<div class="t" style="left:1035.10px;top:366.80px;font-size:14px;-webkit-text-stroke:0.52px currentColor;color:#ffffff;transform-origin:0 0;transform:scaleX(1.0148)">16.0</div>
</body></html>
